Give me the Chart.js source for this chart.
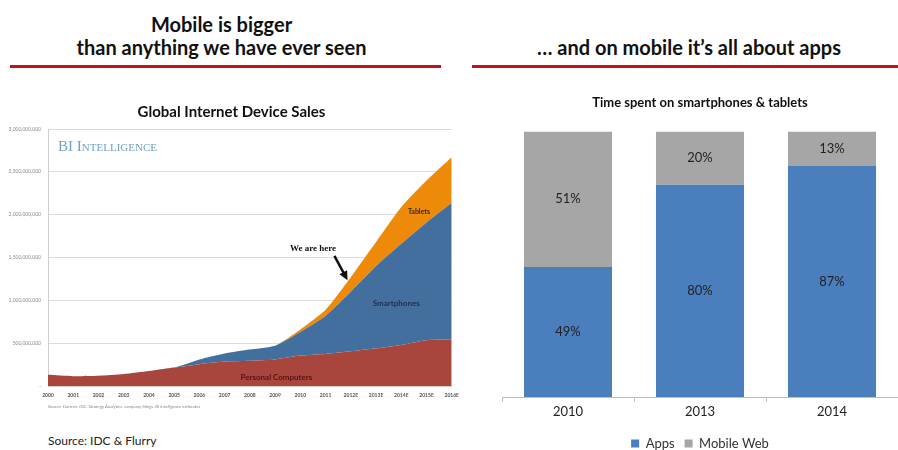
<!DOCTYPE html>
<html>
<head>
<meta charset="utf-8">
<script src="https://cdn.jsdelivr.net/npm/chart.js@4"></script>
<style>
    body { margin: 0; width: 898px; height: 450px; overflow: hidden; background: #fff; font-family: Lato, 'Open Sans', sans-serif; position: relative; }
    .head { position: absolute; font-weight: bold; font-size: 20px; color: #111; text-align: center; line-height: 23px; }
    .rule { position: absolute; height: 3px; background: #c8101a; }
    .box { position: absolute; }
    #note { position: absolute; left: 48px; top: 433px; font-size: 12px; color: #222; }
</style>
</head>
<body>
<div class="head" style="left:0; width:443px; top:13px;">Mobile is bigger<br>than anything we have ever seen</div>
<div class="rule" style="left:10px; width:431px; top:65px;"></div>
<div class="head" style="left:472px; width:434px; top:36px;">… and on mobile it’s all about apps</div>
<div class="rule" style="left:472px; width:426px; top:65px;"></div>

<div class="box" style="left:0; top:95px; width:465px; height:325px;"><canvas id="salesChart"></canvas></div>
<div class="box" style="left:470px; top:85px; width:428px; height:375px;"><canvas id="timeChart"></canvas></div>
<div id="note">Source: IDC &amp; Flurry</div>

<script>
// Global Internet Device Sales (units, millions)
const years = ['2000', '2001', '2002', '2003', '2004', '2005', '2006', '2007', '2008', '2009', '2010', '2011', '2012E', '2013E', '2014E', '2015E', '2016E'];
const pcSales = [130, 115, 120, 140, 175, 215, 255, 285, 295, 310, 355, 375, 405, 440, 480, 535, 545];
const smartphoneSales = [0, 0, 0, 0, 0, 0, 55, 95, 130, 160, 275, 445, 695, 960, 1180, 1375, 1595];
const tabletSales = [0, 0, 0, 0, 0, 0, 0, 0, 0, 0, 30, 70, 170, 280, 430, 490, 530];
const salesTickLabels = ['-', '500,000,000', '1,000,000,000', '1,500,000,000', '2,000,000,000', '2,500,000,000', '3,000,000,000'];

// Time spent on smartphones & tablets (%)
const periods = ['2010', '2013', '2014'];
const appsShare = [49, 80, 87];
const mobileWebShare = [51, 20, 13];

document.addEventListener('DOMContentLoaded', function () {
    Chart.defaults.font.family = "Lato, 'Open Sans', sans-serif";
    Chart.defaults.animation = false;

    // labels drawn inside the area chart
    const areaNotes = {
        id: 'areaNotes',
        afterDatasetsDraw(chart) {
            const c = chart.ctx;
            const x = chart.scales.x;
            const y = chart.scales.y;
            c.save();

            // watermark
            let px = x.getPixelForValue(0.4);
            const py = y.getPixelForValue(2745);
            c.fillStyle = '#6fa3c6';
            c.textBaseline = 'alphabetic';
            c.textAlign = 'left';
            c.font = "15px 'Liberation Serif', serif";
            c.fillText('BI I', px, py);
            px += c.measureText('BI I').width;
            c.font = "11px 'Liberation Serif', serif";
            c.fillText('NTELLIGENCE', px, py);

            c.textAlign = 'center';
            c.textBaseline = 'middle';
            c.font = "bold 9px 'Liberation Serif', serif";
            c.fillStyle = '#111';
            c.fillText('We are here', x.getPixelForValue(10.5), y.getPixelForValue(1605));

            // arrow
            const x1 = x.getPixelForValue(11.35), y1 = y.getPixelForValue(1520);
            const x2 = x.getPixelForValue(11.87), y2 = y.getPixelForValue(1235);
            const ang = Math.atan2(y2 - y1, x2 - x1);
            c.strokeStyle = '#111';
            c.lineWidth = 2.5;
            c.beginPath();
            c.moveTo(x1, y1);
            c.lineTo(x2 - 6 * Math.cos(ang), y2 - 6 * Math.sin(ang));
            c.stroke();
            c.beginPath();
            c.moveTo(x2, y2);
            c.lineTo(x2 - 10 * Math.cos(ang - 0.45), y2 - 10 * Math.sin(ang - 0.45));
            c.lineTo(x2 - 10 * Math.cos(ang + 0.45), y2 - 10 * Math.sin(ang + 0.45));
            c.closePath();
            c.fillStyle = '#111';
            c.fill();

            c.font = 'bold 7px Lato, sans-serif';
            c.fillStyle = '#3b2a12';
            c.fillText('Tablets', x.getPixelForValue(14.7), y.getPixelForValue(2035));
            c.font = 'bold 8px Lato, sans-serif';
            c.fillStyle = '#1d2f50';
            c.fillText('Smartphones', x.getPixelForValue(13.8), y.getPixelForValue(965));
            c.fillStyle = '#5a1212';
            c.fillText('Personal Computers', x.getPixelForValue(9.05), y.getPixelForValue(105));

            c.textAlign = 'left';
            c.font = 'italic 4.5px Lato, sans-serif';
            c.fillStyle = '#888';
            c.fillText('Source: Gartner, IDC, Strategy Analytics, company filings, BI Intelligence estimates', x.left, chart.chartArea.bottom + 21);
            c.restore();
        }
    };

    const salesCtx = document.getElementById('salesChart').getContext('2d');
    const salesChart = new Chart(salesCtx, {
        type: 'line',
        data: {
            labels: years,
            datasets: [
                { label: 'Personal Computers', data: pcSales, backgroundColor: '#a8463e', fill: 'origin' },
                { label: 'Smartphones', data: smartphoneSales, backgroundColor: '#426f9d', fill: '-1' },
                { label: 'Tablets', data: tabletSales, backgroundColor: '#ee8a0a', fill: '-1' }
            ]
        },
        options: {
            responsive: true,
            maintainAspectRatio: false,
            layout: { padding: { left: 0, right: 2, top: 0, bottom: 0 } },
            elements: {
                point: { radius: 0 },
                line: { borderWidth: 0, tension: 0.2 }
            },
            plugins: {
                legend: { display: false },
                tooltip: { enabled: false },
                title: {
                    display: true,
                    text: 'Global Internet Device Sales',
                    color: '#111',
                    font: { size: 15, weight: 'bold' },
                    padding: { top: 8, bottom: 8 }
                }
            },
            scales: {
                x: {
                    grid: { display: false, drawTicks: false },
                    border: { color: '#cfcfcf' },
                    ticks: { font: { size: 5, weight: 'bold' }, color: '#555', maxRotation: 0, autoSkip: false, padding: 6 },
                    afterFit: function (scale) { scale.height = 34; }
                },
                y: {
                    stacked: true,
                    min: 0,
                    max: 3000,
                    grid: { color: '#dcdcdc', drawTicks: false },
                    border: { color: '#cfcfcf' },
                    ticks: {
                        stepSize: 500,
                        padding: 7,
                        font: { size: 5 },
                        color: '#888',
                        callback: function (value, index) { return salesTickLabels[index]; }
                    },
                    afterFit: function (scale) { scale.width = 48; }
                }
            }
        },
        plugins: [areaNotes]
    });

    // percentage labels centred in each bar segment
    const segmentLabels = {
        id: 'segmentLabels',
        afterDatasetsDraw(chart) {
            const c = chart.ctx;
            c.save();
            c.font = '13px Lato, sans-serif';
            c.fillStyle = '#222';
            c.textAlign = 'center';
            c.textBaseline = 'middle';
            chart.data.datasets.forEach(function (ds, i) {
                chart.getDatasetMeta(i).data.forEach(function (bar, j) {
                    c.fillText(ds.data[j] + '%', bar.x, (bar.y + bar.base) / 2);
                });
            });
            c.restore();
        }
    };

    const timeCtx = document.getElementById('timeChart').getContext('2d');
    const timeChart = new Chart(timeCtx, {
        type: 'bar',
        data: {
            labels: periods,
            datasets: [
                { label: 'Apps', data: appsShare, backgroundColor: '#4a7ebc' },
                { label: 'Mobile Web', data: mobileWebShare, backgroundColor: '#a6a6a6' }
            ]
        },
        options: {
            responsive: true,
            maintainAspectRatio: false,
            layout: { padding: { left: 32, right: 0, top: 0, bottom: 0 } },
            datasets: { bar: { categoryPercentage: 1, barPercentage: 0.667 } },
            plugins: {
                tooltip: { enabled: false },
                title: {
                    display: true,
                    text: 'Time spent on smartphones & tablets',
                    color: '#111',
                    font: { size: 13, weight: 'bold' },
                    padding: { top: 10, bottom: 21 }
                },
                legend: {
                    position: 'bottom',
                    labels: { boxWidth: 8, boxHeight: 8, padding: 10, color: '#333', font: { size: 13 } }
                }
            },
            scales: {
                x: {
                    stacked: true,
                    grid: { drawOnChartArea: false, color: '#bfbfbf', tickLength: 5 },
                    border: { color: '#bfbfbf' },
                    ticks: { color: '#222', font: { size: 13 }, padding: 2 },
                    afterFit: function (scale) { scale.height = 30; }
                },
                y: { stacked: true, display: false, min: 0, max: 100 }
            }
        },
        plugins: [segmentLabels]
    });
});
</script>
</body>
</html>
